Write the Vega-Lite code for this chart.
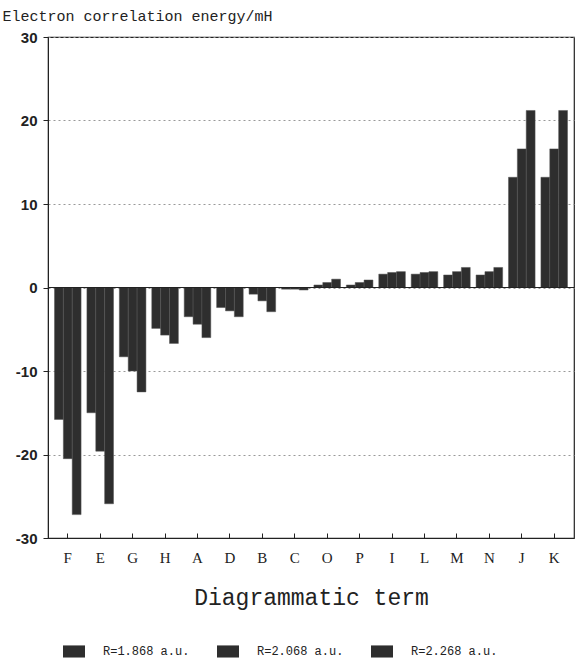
{
  "$schema": "https://vega.github.io/schema/vega-lite/v6.json",
  "width": 526,
  "height": 501,
  "autosize": {"type": "none"},
  "padding": {"left": 48, "top": 37, "right": 4, "bottom": 120},
  "background": "white",
  "config": {
    "view": {"stroke": "#222", "strokeWidth": 1.2},
    "axis": {"domainColor": "#222", "tickColor": "#222"}
  },
  "data": {
    "values": [
      {"term": "F", "R": "R=1.868 a.u.", "energy": -15.8},
      {"term": "F", "R": "R=2.068 a.u.", "energy": -20.5},
      {"term": "F", "R": "R=2.268 a.u.", "energy": -27.2},
      {"term": "E", "R": "R=1.868 a.u.", "energy": -15.0},
      {"term": "E", "R": "R=2.068 a.u.", "energy": -19.6},
      {"term": "E", "R": "R=2.268 a.u.", "energy": -25.9},
      {"term": "G", "R": "R=1.868 a.u.", "energy": -8.3},
      {"term": "G", "R": "R=2.068 a.u.", "energy": -10.0},
      {"term": "G", "R": "R=2.268 a.u.", "energy": -12.5},
      {"term": "H", "R": "R=1.868 a.u.", "energy": -4.9},
      {"term": "H", "R": "R=2.068 a.u.", "energy": -5.7},
      {"term": "H", "R": "R=2.268 a.u.", "energy": -6.7},
      {"term": "A", "R": "R=1.868 a.u.", "energy": -3.5},
      {"term": "A", "R": "R=2.068 a.u.", "energy": -4.4},
      {"term": "A", "R": "R=2.268 a.u.", "energy": -6.0},
      {"term": "D", "R": "R=1.868 a.u.", "energy": -2.4},
      {"term": "D", "R": "R=2.068 a.u.", "energy": -2.8},
      {"term": "D", "R": "R=2.268 a.u.", "energy": -3.5},
      {"term": "B", "R": "R=1.868 a.u.", "energy": -0.8},
      {"term": "B", "R": "R=2.068 a.u.", "energy": -1.6},
      {"term": "B", "R": "R=2.268 a.u.", "energy": -2.9},
      {"term": "C", "R": "R=1.868 a.u.", "energy": -0.2},
      {"term": "C", "R": "R=2.068 a.u.", "energy": -0.2},
      {"term": "C", "R": "R=2.268 a.u.", "energy": -0.3},
      {"term": "O", "R": "R=1.868 a.u.", "energy": 0.3},
      {"term": "O", "R": "R=2.068 a.u.", "energy": 0.6},
      {"term": "O", "R": "R=2.268 a.u.", "energy": 1.0},
      {"term": "P", "R": "R=1.868 a.u.", "energy": 0.3},
      {"term": "P", "R": "R=2.068 a.u.", "energy": 0.6},
      {"term": "P", "R": "R=2.268 a.u.", "energy": 0.9},
      {"term": "I", "R": "R=1.868 a.u.", "energy": 1.6},
      {"term": "I", "R": "R=2.068 a.u.", "energy": 1.8},
      {"term": "I", "R": "R=2.268 a.u.", "energy": 1.9},
      {"term": "L", "R": "R=1.868 a.u.", "energy": 1.6},
      {"term": "L", "R": "R=2.068 a.u.", "energy": 1.8},
      {"term": "L", "R": "R=2.268 a.u.", "energy": 1.9},
      {"term": "M", "R": "R=1.868 a.u.", "energy": 1.5},
      {"term": "M", "R": "R=2.068 a.u.", "energy": 1.9},
      {"term": "M", "R": "R=2.268 a.u.", "energy": 2.4},
      {"term": "N", "R": "R=1.868 a.u.", "energy": 1.5},
      {"term": "N", "R": "R=2.068 a.u.", "energy": 1.9},
      {"term": "N", "R": "R=2.268 a.u.", "energy": 2.4},
      {"term": "J", "R": "R=1.868 a.u.", "energy": 13.2},
      {"term": "J", "R": "R=2.068 a.u.", "energy": 16.6},
      {"term": "J", "R": "R=2.268 a.u.", "energy": 21.2},
      {"term": "K", "R": "R=1.868 a.u.", "energy": 13.2},
      {"term": "K", "R": "R=2.068 a.u.", "energy": 16.6},
      {"term": "K", "R": "R=2.268 a.u.", "energy": 21.2}
    ]
  },
  "layer": [
    {
      "mark": {"type": "bar", "stroke": "#555", "strokeWidth": 0.5},
      "encoding": {
        "x": {
          "field": "term",
          "type": "nominal",
          "sort": ["F","E","G","H","A","D","B","C","O","P","I","L","M","N","J","K"],
          "scale": {"paddingInner": 0.18, "paddingOuter": 0.2},
          "axis": {
            "title": "Diagrammatic term",
            "titleFont": "Liberation Mono",
            "titleFontSize": 23,
            "titleFontWeight": "normal",
            "titleColor": "#222",
            "titlePadding": 21,
            "labelFont": "Liberation Serif",
            "labelFontSize": 15,
            "labelColor": "#222",
            "labelAngle": 0,
            "labelPadding": 17,
            "tickSize": -5
          }
        },
        "xOffset": {"field": "R", "type": "nominal", "scale": {"paddingInner": 0}},
        "y": {
          "field": "energy",
          "type": "quantitative",
          "scale": {"domain": [-30, 30], "nice": false},
          "axis": {
            "values": [-30, -20, -10, 0, 10, 20, 30],
            "labelExpr": "'' + datum.value",
            "labelFont": "Liberation Sans",
            "labelFontSize": 15,
            "labelFontWeight": "bold",
            "labelColor": "#222",
            "labelPadding": 6,
            "tickSize": 5,
            "grid": true,
            "gridDash": [2, 3],
            "gridColor": "#999",
            "title": "Electron correlation energy/mH",
            "titleAngle": 0,
            "titleAlign": "left",
            "titleBaseline": "bottom",
            "titleX": -46,
            "titleY": -14,
            "titleFont": "Liberation Mono",
            "titleFontSize": 15,
            "titleFontWeight": "normal",
            "titleColor": "#222"
          }
        },
        "color": {
          "field": "R",
          "type": "nominal",
          "scale": {"range": ["#2e2e2e", "#2e2e2e", "#2e2e2e"]},
          "legend": {
            "title": null,
            "orient": "none",
            "direction": "horizontal",
            "legendX": 15,
            "legendY": 603,
            "symbolType": "M-1,-0.55H1V0.55H-1Z",
            "symbolSize": 484,
            "symbolStrokeWidth": 0,
            "labelFont": "Liberation Mono",
            "labelFontSize": 12,
            "labelColor": "#222",
            "labelOffset": 18,
            "columnPadding": 27
          }
        }
      }
    },
    {
      "mark": {"type": "rule", "color": "#222", "strokeWidth": 1},
      "encoding": {"y": {"datum": 0}}
    }
  ]
}
